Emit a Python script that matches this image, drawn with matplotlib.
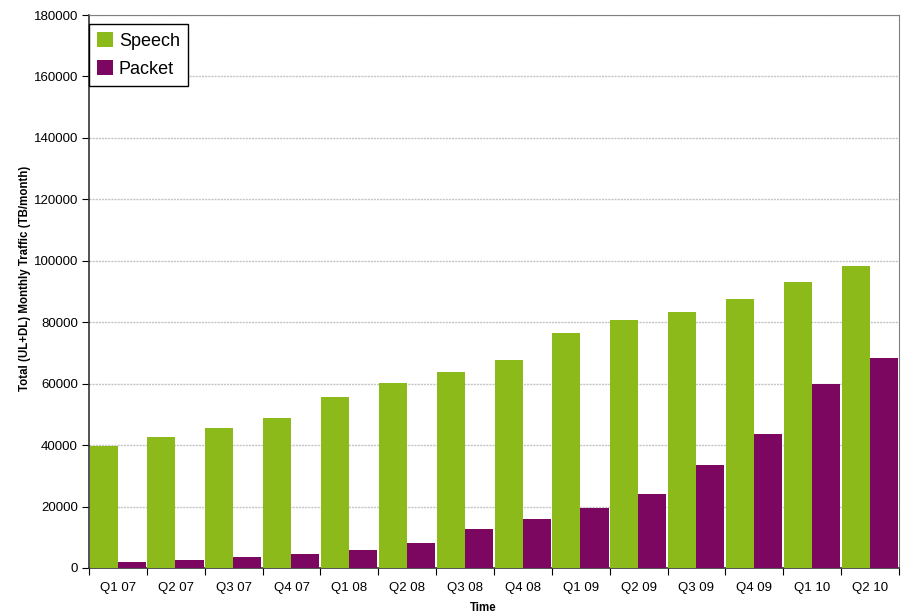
import matplotlib
matplotlib.use("Agg")
import matplotlib.pyplot as plt
import numpy as np

plt.rcParams['font.family'] = ['Liberation Sans', 'DejaVu Sans']

quarters = ["Q1 07", "Q2 07", "Q3 07", "Q4 07", "Q1 08", "Q2 08", "Q3 08", "Q4 08",
            "Q1 09", "Q2 09", "Q3 09", "Q4 09", "Q1 10", "Q2 10"]
speech = [39700, 42600, 45600, 48800, 55700, 60200, 63800, 67700,
          76500, 80700, 83300, 87500, 93100, 98300]
packet = [1950, 2500, 3500, 4500, 5800, 8100, 12700, 16000,
          19500, 24000, 33500, 43600, 59900, 68300]

green = "#8BBA1A"
purple = "#7B0761"

fig = plt.figure(figsize=(9.02, 6.13), dpi=100)
ax = fig.add_axes([89/902, 1 - 568/613, 810/902, 553/613])

x = np.arange(len(quarters))
w = 0.485
ax.bar(x - 0.49, speech, width=w, align='edge', color=green, label="Speech", zorder=3)
ax.bar(x - 0.49 + w, packet, width=w, align='edge', color=purple, label="Packet", zorder=3)

ax.set_xlim(-0.5, len(quarters) - 0.5)
ax.set_ylim(0, 180000)
ax.set_yticks(np.arange(0, 180001, 20000))
ax.yaxis.set_major_formatter(lambda v, pos: f"{int(v)}")
ax.tick_params(axis='y', direction='out', length=5, labelsize=9.5, pad=3)

# ticks between groups, labels centered
ax.set_xticks(np.arange(-0.5, len(quarters), 1.0))
ax.set_xticklabels([])
ax.set_xticks(x, minor=True)
ax.set_xticklabels(quarters, minor=True)
ax.tick_params(axis='x', which='major', direction='out', length=5)
ax.tick_params(axis='x', which='minor', length=0, labelsize=9.5, pad=10)

ax.grid(True, axis='y', color='#c4c4c4', linestyle=(0, (1.5, 0.75)), linewidth=1, zorder=0)
for s in ['top', 'right']:
    ax.spines[s].set_color('#808080')
for s in ['left', 'bottom']:
    ax.spines[s].set_color('#333333')
    ax.spines[s].set_linewidth(1.2)

ax.set_ylabel("Total (UL+DL) Monthly Traffic (TB/month)", fontsize=8.3, fontweight='bold')
ax.yaxis.set_label_coords(-0.0716, 0.524)
ax.set_xlabel("Time", fontsize=8.3, fontweight='bold')
ax.xaxis.set_label_coords(0.487, -0.062)

leg = ax.legend(loc='upper left', bbox_to_anchor=(0, 1 - 9/553), borderaxespad=0,
                fontsize=13, frameon=True, fancybox=False, handlelength=0.9,
                handleheight=0.9, handletextpad=0.3, labelspacing=0.55, borderpad=0.45)
leg.get_frame().set_edgecolor('black')
leg.get_frame().set_linewidth(1)
leg.get_frame().set_alpha(1)

fig.savefig("out.png", dpi=100)
